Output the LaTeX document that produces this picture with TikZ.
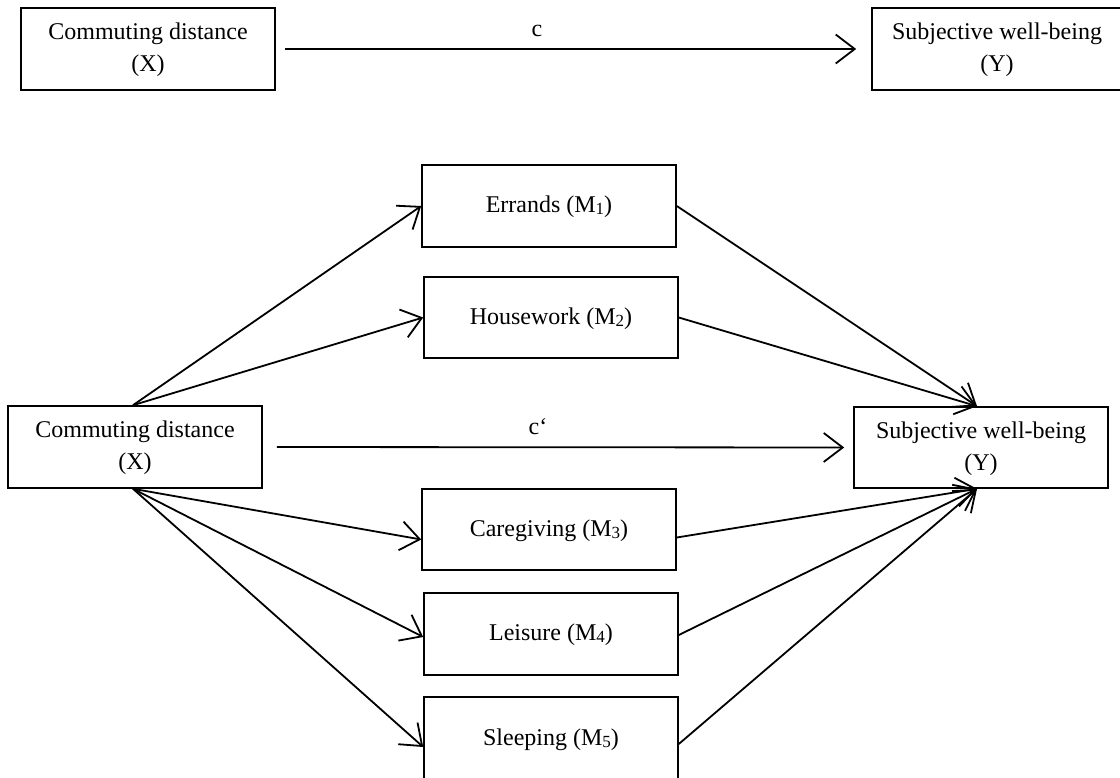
\documentclass[tikz,border=0pt]{standalone}
\usepackage{fontspec}
\setmainfont{Liberation Serif}
\usetikzlibrary{arrows.meta}
\newcommand\msub[1]{\raisebox{-2pt}{\fontsize{17}{17}\selectfont #1}}
\newcommand\topstrut{\rule{0pt}{19pt}}
\begin{document}
\begin{tikzpicture}[x=1pt,y=-1pt,
  box/.style={draw,line width=1.6pt,rectangle,minimum width=254pt,minimum height=82pt,inner sep=0pt,align=center,font=\fontsize{24}{32}\selectfont},
  lab/.style={font=\fontsize{24}{30}\selectfont,inner sep=0pt},
  arr/.style={line width=1.8pt,-{Straight Barb[length=19pt,width=29pt,line width=1.8pt]}}]
\useasboundingbox (0,0) rectangle (1120,778);
% top model
\node[box] (tx) at (148,49) {\topstrut Commuting distance\\(X)};
\node[box,minimum width=250pt] (ty) at (997,49) {\topstrut Subjective well-being\\(Y)};
\draw[arr,shorten <=9pt,shorten >=15pt] (tx.east) -- (ty.west);
\node[lab] (c) at (537,31) {c};
% mediation model
\node[box] (x) at (135,447) {\topstrut Commuting distance\\(X)};
\node[box,minimum height=81pt] (y) at (981,447.5) {\topstrut Subjective well-being\\(Y)};
\node[box] (m1) at (549,206) {\rule{0pt}{19pt}Errands (M\msub{1})};
\node[box,minimum height=81pt] (m2) at (551,317.5) {\rule{0pt}{19pt}Housework (M\msub{2})};
\node[box,minimum height=81pt] (m3) at (549,529.5) {\rule{0pt}{19pt}Caregiving (M\msub{3})};
\node[box] (m4) at (551,634) {\rule{0pt}{19pt}Leisure (M\msub{4})};
\node[box,minimum height=84pt] (m5) at (551,739) {\rule{0pt}{19pt}Sleeping (M\msub{5})};
\draw[arr,shorten <=14pt,shorten >=9pt] (x.east) -- (y.west);
\node[lab] (cp) at (538,427) {c‘};
\coordinate (xs) at ([xshift=-2pt]x.north);
\coordinate (xb) at ([xshift=-2pt]x.south);
\coordinate (yt) at ([xshift=-4pt]y.north);
\coordinate (yb) at ([xshift=-4pt]y.south);
\draw[arr] (xs) -- (m1.west);
\draw[arr] (xs) -- (m2.west);
\draw[arr] (xb) -- ([yshift=-10pt]m3.west);
\draw[arr] (xb) -- ([yshift=-3pt]m4.west);
\draw[arr] (xb) -- ([yshift=-8pt]m5.west);
\draw[arr] (m1.east) -- (yt);
\draw[arr] (m2.east) -- (yt);
\draw[arr] ([yshift=-8pt]m3.east) -- (yb);
\draw[arr] ([yshift=-1pt]m4.east) -- (yb);
\draw[arr] ([yshift=-5pt]m5.east) -- (yb);
\end{tikzpicture}
\end{document}
